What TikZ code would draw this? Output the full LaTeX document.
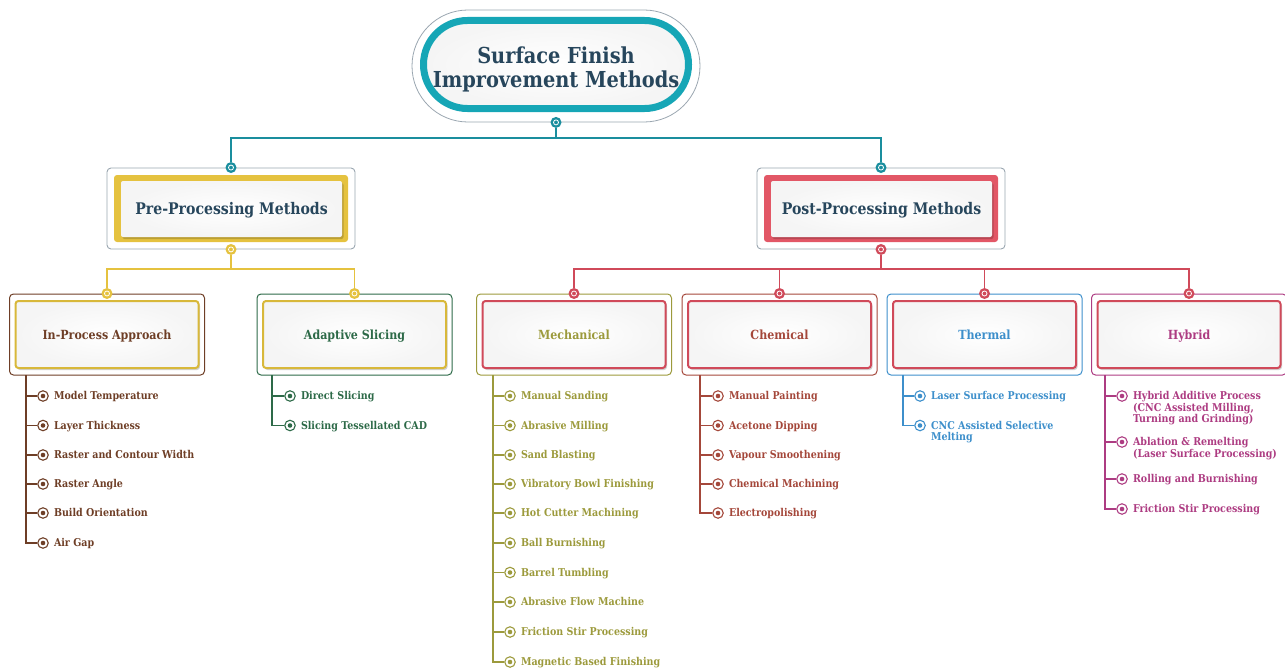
\documentclass[tikz,border=0pt]{standalone}
\usepackage{fontspec}
\setmainfont{DejaVu Serif}[FakeStretch=0.88]
\usetikzlibrary{shadows}
\definecolor{navy}{HTML}{27465C}
\definecolor{tealc}{HTML}{16A6B6}
\definecolor{tealln}{HTML}{1A8E9E}
\definecolor{yel}{HTML}{E5C23F}
\definecolor{yelb}{HTML}{D8B83A}
\definecolor{redc}{HTML}{E25766}
\definecolor{redb}{HTML}{D04A5A}
\definecolor{grayb}{HTML}{9AA6B0}
\definecolor{brn}{HTML}{6E3E26}
\definecolor{grn}{HTML}{2D6A48}
\definecolor{olv}{HTML}{9C9A3C}
\definecolor{rst}{HTML}{A4473A}
\definecolor{blu}{HTML}{3D8FCB}
\definecolor{mag}{HTML}{AD3C82}
\tikzset{
  shd/.style={drop shadow={shadow xshift=1.5pt,shadow yshift=-2pt,opacity=0.18,fill=black}},
  soft/.style={inner color=white,outer color=black!4},
  outerbox/.style={draw=#1,line width=0.9pt,rounded corners=4pt,minimum width=248pt,minimum height=81pt,inner sep=0pt},
  subouter/.style={draw=#1,line width=1pt,rounded corners=4pt,minimum width=195pt,minimum height=81pt,inner sep=0pt},
  band/.style={fill=#1,rounded corners=3pt,minimum width=234pt,minimum height=67pt,inner sep=0pt},
  mainbox/.style={soft,shd,rounded corners=2pt,minimum width=221pt,minimum height=56pt,text=navy,text height=12pt,text depth=0.3pt,font=\bfseries\fontsize{16}{19}\selectfont},
  subbox/.style={draw=#1,line width=2pt,soft,shd,rounded corners=3pt,minimum width=183pt,minimum height=67pt,text height=10.5pt,text depth=0.3pt,font=\bfseries\fontsize{12.6}{15}\selectfont},
  cdot/.style={circle,fill=#1,minimum size=11pt,inner sep=0pt,path picture={\draw[white,line width=0.8pt] (path picture bounding box.center) circle (2.5pt);}},
  idot/.style={circle,draw=#1,fill=white,line width=1.1pt,minimum size=10.5pt,inner sep=0pt,path picture={\fill[#1] (path picture bounding box.center) circle (2.3pt);}},
  itxt/.style={text=#1,font=\bfseries\fontsize{10.8}{11.5}\selectfont,align=left,inner sep=0pt},
  conn/.style={draw=#1,line width=1.5pt},
}
\newcommand\itemdot[6]{%
  \node[idot=#4] (#1) at (#2,#3) {};
  \node[itxt=#4,anchor=north west] (#1t) at ([xshift=5pt,yshift=4.8pt]#1.east) {#5};
  \draw[#4,line width=1.1pt] (#6) |- (#1);
}
\begin{document}
\begin{tikzpicture}[x=1pt,y=-1pt]
\useasboundingbox (0,0) rectangle (1285,669);
% root
\node[draw=grayb,line width=0.8pt,rounded corners=55.9pt,minimum width=288pt,minimum height=112pt,inner sep=0pt] (rootO) at (556,66) {};
\node[draw=tealc,soft,shd,line width=7pt,rounded corners=43.9pt,minimum width=265pt,minimum height=88pt,inner sep=0pt] (root) at (556,64.5) {};
\node[text=navy,align=center,font=\bfseries\fontsize{22}{24}\selectfont] (rootT) at (556,69) {Surface Finish\\Improvement Methods};
% level 1
\node[outerbox=grayb] (preO) at (231,208.5) {};
\node[band=yel] (preB) at (231,208.5) {};
\node[mainbox] (pre) at (231.5,209) {Pre-Processing Methods};
\node[outerbox=grayb] (postO) at (881,208.5) {};
\node[band=redc] (postB) at (881,208.5) {};
\node[mainbox] (post) at (881.5,209) {Post-Processing Methods};
% level 2
\node[subouter=brn] (ipaO) at (107,334.5) {};
\node[subbox=yelb,text=brn] (ipa) at (107,334.5) {In-Process Approach};
\node[subouter=grn] (adsO) at (354.5,334.5) {};
\node[subbox=yelb,text=grn] (ads) at (354.5,334.5) {Adaptive Slicing};
\node[subouter=olv] (mecO) at (574,334.5) {};
\node[subbox=redb,text=olv] (mec) at (574,334.5) {Mechanical};
\node[subouter=rst] (chmO) at (779.5,334.5) {};
\node[subbox=redb,text=rst] (chm) at (779.5,334.5) {Chemical};
\node[subouter=blu] (thmO) at (984.5,334.5) {};
\node[subbox=redb,text=blu] (thm) at (984.5,334.5) {Thermal};
\node[subouter=mag] (hybO) at (1189,334.5) {};
\node[subbox=redb,text=mag] (hyb) at (1189,334.5) {Hybrid};
% connector dots
\node[cdot=tealln] (d0) at (rootO.south) {};
\node[cdot=tealln] (d1) at (preO.north) {};
\node[cdot=tealln] (d2) at (postO.north) {};
\node[cdot=yel] (dp) at (preO.south) {};
\node[cdot=yel] (dipa) at (ipaO.north) {};
\node[cdot=yel] (dads) at (adsO.north) {};
\node[cdot=redb] (dq) at (postO.south) {};
\node[cdot=redb] (dmec) at (mecO.north) {};
\node[cdot=redb] (dchm) at (chmO.north) {};
\node[cdot=redb] (dthm) at (thmO.north) {};
\node[cdot=redb] (dhyb) at (hybO.north) {};
\coordinate (j0) at (556,138);
\coordinate (jp) at (231,269);
\coordinate (jq) at (881,269);
\draw[conn=tealln] (d0) -- (j0);
\draw[conn=tealln] (j0) -| (d1);
\draw[conn=tealln] (j0) -| (d2);
\draw[conn=yel] (dp) -- (jp);
\draw[conn=yel] (jp) -| (dipa);
\draw[conn=yel] (jp) -| (dads);
\draw[conn=redb] (dq) -- (jq);
\draw[conn=redb] (jq) -| (dmec);
\draw[conn=redb] (jq) -| (dchm);
\draw[conn=redb] (jq) -| (dthm);
\draw[conn=redb] (jq) -| (dhyb);
% trunks
\coordinate (ipaT) at (26,375);
\coordinate (adsT) at (272,375);
\coordinate (mecT) at (493,375);
\coordinate (chmT) at (700,375);
\coordinate (thmT) at (903,375);
\coordinate (hybT) at (1105,375);
% items
\itemdot{i1}{43}{396}{brn}{Model Temperature}{ipaT}
\itemdot{i2}{43}{425.5}{brn}{Layer Thickness}{ipaT}
\itemdot{i3}{43}{455}{brn}{Raster and Contour Width}{ipaT}
\itemdot{i4}{43}{484}{brn}{Raster Angle}{ipaT}
\itemdot{i5}{43}{513}{brn}{Build Orientation}{ipaT}
\itemdot{i6}{43}{543}{brn}{Air Gap}{ipaT}
\itemdot{a1}{290}{396}{grn}{Direct Slicing}{adsT}
\itemdot{a2}{290}{425.5}{grn}{Slicing Tessellated CAD}{adsT}
\itemdot{m1}{510}{396}{olv}{Manual Sanding}{mecT}
\itemdot{m2}{510}{425.5}{olv}{Abrasive Milling}{mecT}
\itemdot{m3}{510}{455}{olv}{Sand Blasting}{mecT}
\itemdot{m4}{510}{484}{olv}{Vibratory Bowl Finishing}{mecT}
\itemdot{m5}{510}{513}{olv}{Hot Cutter Machining}{mecT}
\itemdot{m6}{510}{543}{olv}{Ball Burnishing}{mecT}
\itemdot{m7}{510}{572.5}{olv}{Barrel Tumbling}{mecT}
\itemdot{m8}{510}{602}{olv}{Abrasive Flow Machine}{mecT}
\itemdot{m9}{510}{632}{olv}{Friction Stir Processing}{mecT}
\itemdot{m10}{510}{662}{olv}{Magnetic Based Finishing}{mecT}
\itemdot{c1}{718}{396}{rst}{Manual Painting}{chmT}
\itemdot{c2}{718}{425.5}{rst}{Acetone Dipping}{chmT}
\itemdot{c3}{718}{455}{rst}{Vapour Smoothening}{chmT}
\itemdot{c4}{718}{484}{rst}{Chemical Machining}{chmT}
\itemdot{c5}{718}{513}{rst}{Electropolishing}{chmT}
\itemdot{t1}{920}{396}{blu}{Laser Surface Processing}{thmT}
\itemdot{t2}{920}{425.5}{blu}{CNC Assisted Selective\\Melting}{thmT}
\itemdot{h1}{1122}{396}{mag}{Hybrid Additive Process\\(CNC Assisted Milling,\\Turning and Grinding)}{hybT}
\itemdot{h2}{1122}{442}{mag}{Ablation \& Remelting\\(Laser Surface Processing)}{hybT}
\itemdot{h3}{1122}{479}{mag}{Rolling and Burnishing}{hybT}
\itemdot{h4}{1122}{509}{mag}{Friction Stir Processing}{hybT}
\end{tikzpicture}
\end{document}
